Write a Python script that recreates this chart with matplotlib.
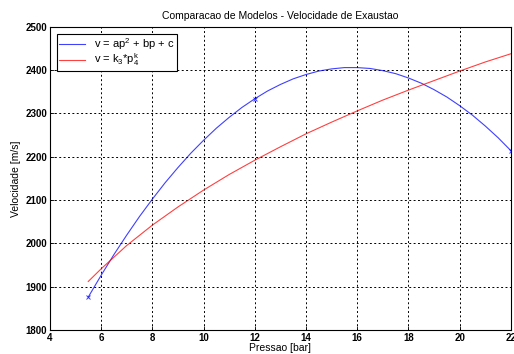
import matplotlib
matplotlib.use("Agg")
import matplotlib.pyplot as plt

# quadratic model v = a p^2 + b p + c
p_quad = [5.5, 6, 6.5, 7, 7.5, 8, 8.5, 9, 9.5, 10, 10.5, 11, 11.5, 12, 12.5,
          13, 13.5, 14, 14.5, 15, 15.5, 16, 16.5, 17, 17.5, 18, 18.5, 19,
          19.5, 20, 20.5, 21, 21.5, 22]
v_quad = [1876, 1926, 1974, 2019, 2062, 2102, 2140, 2175, 2208, 2238, 2266,
          2291, 2314, 2334, 2352, 2367, 2380, 2390, 2398, 2403, 2406, 2406,
          2404, 2399, 2392, 2382, 2370, 2355, 2338, 2318, 2296, 2271, 2244,
          2214]

# power model v = k3 * p^k4
p_pow = [5.5, 6, 7, 8, 9, 10, 11, 12, 13, 14, 15, 16, 17, 18, 19, 20, 21, 22]
v_pow = [1912, 1941, 1995, 2042, 2084, 2123, 2159, 2192, 2223, 2253, 2280,
         2306, 2331, 2354, 2376, 2398, 2419, 2438]

# measured points shown with x markers
p_meas = [5.5, 12, 22]
v_meas = [1876, 2334, 2214]

x_ticks = [4, 6, 8, 10, 12, 14, 16, 18, 20, 22]
y_ticks = [1800, 1900, 2000, 2100, 2200, 2300, 2400, 2500]

plt.rcParams["font.family"] = ["Liberation Sans", "DejaVu Sans"]
plt.rcParams["mathtext.fontset"] = "custom"
plt.rcParams["mathtext.rm"] = "Liberation Sans"
plt.rcParams["mathtext.it"] = "Liberation Sans"
plt.rcParams["mathtext.default"] = "regular"

fig = plt.figure(figsize=(5.14, 3.54), dpi=100)
ax = fig.add_axes([0.097, 0.068, 0.897, 0.856])

ax.plot(p_quad, v_quad, color="#0000ff", lw=0.8, alpha=0.75,
        label=r"v = ap$^2$ + bp + c")
ax.plot(p_pow, v_pow, color="#ff0000", lw=0.8, alpha=0.75,
        label=r"v = k$_3$*p$_4^k$")
ax.plot(p_meas, v_meas, "x", color="#0000ff", ms=3, mew=0.7, alpha=0.75)

ax.set_xlim(4, 22)
ax.set_ylim(1800, 2500)
ax.set_xticks(x_ticks)
ax.set_yticks(y_ticks)
ax.tick_params(direction="in", length=3, labelsize=7, width=0.6, pad=2)
for lbl in ax.get_xticklabels() + ax.get_yticklabels():
    lbl.set_fontweight("bold")
ax.grid(True, color="black", linestyle=(0, (2, 2.5)), linewidth=0.7)
for s in ax.spines.values():
    s.set_linewidth(0.8)

ax.set_title("Comparacao de Modelos - Velocidade de Exaustao", fontsize=7.5, pad=6)
ax.set_xlabel("Pressao [bar]", fontsize=7.5, labelpad=0)
ax.set_ylabel("Velocidade [m/s]", fontsize=7.5, labelpad=3)

leg = ax.legend(loc="upper left", fontsize=8, fancybox=False,
                framealpha=1, edgecolor="black", borderpad=0.2,
                labelspacing=0.0, handlelength=2.4, handletextpad=0.8,
                borderaxespad=0.6)
leg.get_frame().set_linewidth(0.8)

fig.savefig("out.png", dpi=100)
